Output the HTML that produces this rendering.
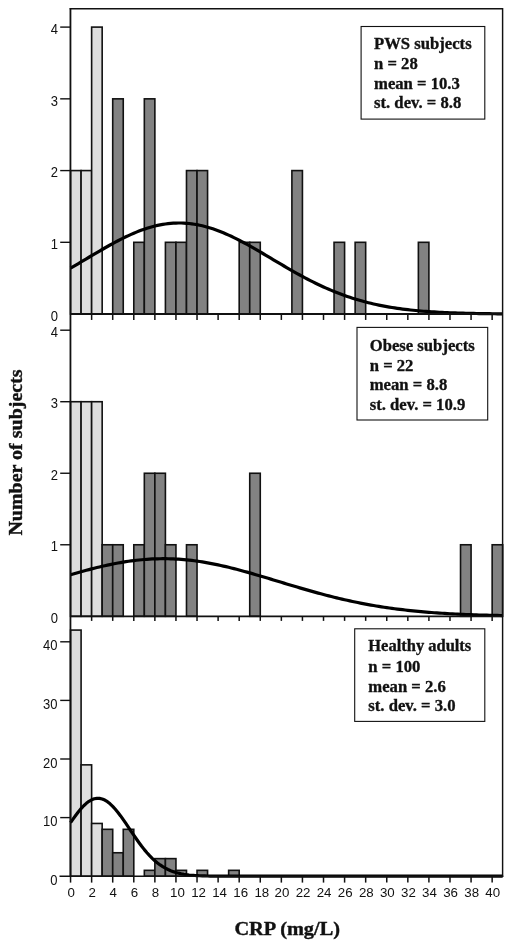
<!DOCTYPE html>
<html><head><meta charset="utf-8"><title>CRP histograms</title>
<style>html,body{margin:0;padding:0;background:#fff}svg{display:block;will-change:transform}.s{font-family:"Liberation Sans",Arial,Helvetica,sans-serif;font-size:14px;fill:#111}.b{font-family:"Liberation Serif","Times New Roman",Times,serif;font-weight:bold;fill:#111;stroke:#111;stroke-width:0.32px}</style></head><body>
<svg width="512" height="948" viewBox="0 0 512 948">
<rect width="512" height="948" fill="#fff"/>
<rect x="70.55" y="170.58" width="10.54" height="143.47" fill="#dedede" stroke="#111" stroke-width="1.6"/>
<rect x="81.09" y="170.58" width="10.54" height="143.47" fill="#dedede" stroke="#111" stroke-width="1.6"/>
<rect x="91.63" y="27.10" width="10.54" height="286.95" fill="#dedede" stroke="#111" stroke-width="1.6"/>
<rect x="112.71" y="98.84" width="10.54" height="215.21" fill="#828282" stroke="#111" stroke-width="1.6"/>
<rect x="133.79" y="242.31" width="10.54" height="71.74" fill="#828282" stroke="#111" stroke-width="1.6"/>
<rect x="144.33" y="98.84" width="10.54" height="215.21" fill="#828282" stroke="#111" stroke-width="1.6"/>
<rect x="165.41" y="242.31" width="10.54" height="71.74" fill="#828282" stroke="#111" stroke-width="1.6"/>
<rect x="175.95" y="242.31" width="10.54" height="71.74" fill="#828282" stroke="#111" stroke-width="1.6"/>
<rect x="186.49" y="170.58" width="10.54" height="143.47" fill="#828282" stroke="#111" stroke-width="1.6"/>
<rect x="197.03" y="170.58" width="10.54" height="143.47" fill="#828282" stroke="#111" stroke-width="1.6"/>
<rect x="239.19" y="242.31" width="10.54" height="71.74" fill="#828282" stroke="#111" stroke-width="1.6"/>
<rect x="249.73" y="242.31" width="10.54" height="71.74" fill="#828282" stroke="#111" stroke-width="1.6"/>
<rect x="291.89" y="170.58" width="10.54" height="143.47" fill="#828282" stroke="#111" stroke-width="1.6"/>
<rect x="334.05" y="242.31" width="10.54" height="71.74" fill="#828282" stroke="#111" stroke-width="1.6"/>
<rect x="355.13" y="242.31" width="10.54" height="71.74" fill="#828282" stroke="#111" stroke-width="1.6"/>
<rect x="418.37" y="242.31" width="10.54" height="71.74" fill="#828282" stroke="#111" stroke-width="1.6"/>
<rect x="70.55" y="401.72" width="10.54" height="214.57" fill="#dedede" stroke="#111" stroke-width="1.6"/>
<rect x="81.09" y="401.72" width="10.54" height="214.57" fill="#dedede" stroke="#111" stroke-width="1.6"/>
<rect x="91.63" y="401.72" width="10.54" height="214.57" fill="#dedede" stroke="#111" stroke-width="1.6"/>
<rect x="102.17" y="544.77" width="10.54" height="71.52" fill="#828282" stroke="#111" stroke-width="1.6"/>
<rect x="112.71" y="544.77" width="10.54" height="71.52" fill="#828282" stroke="#111" stroke-width="1.6"/>
<rect x="133.79" y="544.77" width="10.54" height="71.52" fill="#828282" stroke="#111" stroke-width="1.6"/>
<rect x="144.33" y="473.25" width="10.54" height="143.05" fill="#828282" stroke="#111" stroke-width="1.6"/>
<rect x="154.87" y="473.25" width="10.54" height="143.05" fill="#828282" stroke="#111" stroke-width="1.6"/>
<rect x="165.41" y="544.77" width="10.54" height="71.52" fill="#828282" stroke="#111" stroke-width="1.6"/>
<rect x="186.49" y="544.77" width="10.54" height="71.52" fill="#828282" stroke="#111" stroke-width="1.6"/>
<rect x="249.73" y="473.25" width="10.54" height="143.05" fill="#828282" stroke="#111" stroke-width="1.6"/>
<rect x="460.53" y="544.77" width="10.54" height="71.52" fill="#828282" stroke="#111" stroke-width="1.6"/>
<rect x="492.15" y="544.77" width="10.54" height="71.52" fill="#828282" stroke="#111" stroke-width="1.6"/>
<rect x="70.55" y="630.08" width="10.54" height="246.12" fill="#dedede" stroke="#111" stroke-width="1.6"/>
<rect x="81.09" y="764.86" width="10.54" height="111.34" fill="#dedede" stroke="#111" stroke-width="1.6"/>
<rect x="91.63" y="823.46" width="10.54" height="52.74" fill="#dedede" stroke="#111" stroke-width="1.6"/>
<rect x="102.17" y="829.32" width="10.54" height="46.88" fill="#828282" stroke="#111" stroke-width="1.6"/>
<rect x="112.71" y="852.76" width="10.54" height="23.44" fill="#828282" stroke="#111" stroke-width="1.6"/>
<rect x="123.25" y="829.32" width="10.54" height="46.88" fill="#828282" stroke="#111" stroke-width="1.6"/>
<rect x="144.33" y="870.34" width="10.54" height="5.86" fill="#828282" stroke="#111" stroke-width="1.6"/>
<rect x="154.87" y="858.62" width="10.54" height="17.58" fill="#828282" stroke="#111" stroke-width="1.6"/>
<rect x="165.41" y="858.62" width="10.54" height="17.58" fill="#828282" stroke="#111" stroke-width="1.6"/>
<rect x="175.95" y="870.34" width="10.54" height="5.86" fill="#828282" stroke="#111" stroke-width="1.6"/>
<rect x="197.03" y="870.34" width="10.54" height="5.86" fill="#828282" stroke="#111" stroke-width="1.6"/>
<rect x="228.65" y="870.34" width="10.54" height="5.86" fill="#828282" stroke="#111" stroke-width="1.6"/>
<polyline points="70.55,268.15 73.19,266.61 75.82,265.07 78.45,263.51 81.09,261.95 83.72,260.39 86.36,258.82 89.00,257.25 91.63,255.68 94.26,254.12 96.90,252.57 99.53,251.03 102.17,249.50 104.80,247.99 107.44,246.49 110.07,245.02 112.71,243.57 115.34,242.16 117.98,240.77 120.61,239.41 123.25,238.09 125.88,236.81 128.52,235.58 131.16,234.38 133.79,233.24 136.43,232.14 139.06,231.10 141.69,230.11 144.33,229.17 146.96,228.30 149.60,227.48 152.23,226.73 154.87,226.05 157.50,225.43 160.14,224.87 162.77,224.39 165.41,223.98 168.04,223.64 170.68,223.36 173.31,223.17 175.95,223.04 178.58,222.99 181.22,223.01 183.85,223.11 186.49,223.28 189.12,223.52 191.76,223.83 194.39,224.22 197.03,224.67 199.66,225.20 202.30,225.79 204.94,226.45 207.57,227.18 210.20,227.96 212.84,228.81 215.47,229.73 218.11,230.69 220.75,231.72 223.38,232.79 226.01,233.92 228.65,235.09 231.28,236.31 233.92,237.58 236.56,238.88 239.19,240.22 241.82,241.60 244.46,243.00 247.09,244.44 249.73,245.90 252.37,247.39 255.00,248.89 257.63,250.41 260.27,251.95 262.90,253.50 265.54,255.06 268.17,256.62 270.81,258.19 273.44,259.76 276.08,261.33 278.71,262.89 281.35,264.45 283.98,266.00 286.62,267.53 289.25,269.06 291.89,270.57 294.52,272.06 297.16,273.54 299.79,274.99 302.43,276.42 305.06,277.83 307.70,279.22 310.33,280.58 312.97,281.91 315.60,283.21 318.24,284.49 320.88,285.73 323.51,286.95 326.14,288.13 328.78,289.28 331.41,290.40 334.05,291.49 336.69,292.54 339.32,293.56 341.95,294.55 344.59,295.51 347.22,296.43 349.86,297.32 352.50,298.18 355.13,299.01 357.76,299.80 360.40,300.57 363.03,301.30 365.67,302.00 368.31,302.68 370.94,303.32 373.57,303.94 376.21,304.53 378.84,305.09 381.48,305.62 384.12,306.13 386.75,306.62 389.38,307.08 392.02,307.52 394.65,307.93 397.29,308.32 399.93,308.70 402.56,309.05 405.19,309.38 407.83,309.70 410.46,309.99 413.10,310.27 415.73,310.53 418.37,310.78 421.00,311.01 423.64,311.23 426.27,311.44 428.91,311.63 431.54,311.81 434.18,311.97 436.81,312.13 439.45,312.28 442.08,312.41 444.72,312.54 447.35,312.66 449.99,312.77 452.62,312.87 455.26,312.97 457.89,313.06 460.53,313.14 463.16,313.21 465.80,313.28 468.44,313.35 471.07,313.41 473.70,313.46 476.34,313.51 478.97,313.56 481.61,313.60 484.25,313.64 486.88,313.68 489.51,313.71 492.15,313.74 494.78,313.77 497.42,313.80 500.05,313.82 502.69,313.84" fill="none" stroke="#000" stroke-width="3.2" stroke-linejoin="round"/>
<polyline points="70.55,574.73 73.19,573.96 75.82,573.20 78.45,572.45 81.09,571.72 83.72,570.99 86.36,570.28 89.00,569.58 91.63,568.89 94.26,568.22 96.90,567.57 99.53,566.93 102.17,566.31 104.80,565.71 107.44,565.13 110.07,564.57 112.71,564.03 115.34,563.51 117.98,563.02 120.61,562.55 123.25,562.10 125.88,561.68 128.52,561.29 131.16,560.92 133.79,560.58 136.43,560.26 139.06,559.98 141.69,559.72 144.33,559.49 146.96,559.29 149.60,559.12 152.23,558.97 154.87,558.86 157.50,558.78 160.14,558.73 162.77,558.71 165.41,558.72 168.04,558.76 170.68,558.83 173.31,558.93 175.95,559.06 178.58,559.22 181.22,559.40 183.85,559.62 186.49,559.87 189.12,560.14 191.76,560.45 194.39,560.78 197.03,561.14 199.66,561.52 202.30,561.93 204.94,562.37 207.57,562.83 210.20,563.31 212.84,563.82 215.47,564.35 218.11,564.90 220.75,565.48 223.38,566.07 226.01,566.68 228.65,567.31 231.28,567.96 233.92,568.62 236.56,569.30 239.19,570.00 241.82,570.70 244.46,571.43 247.09,572.16 249.73,572.90 252.37,573.66 255.00,574.42 257.63,575.19 260.27,575.97 262.90,576.75 265.54,577.54 268.17,578.33 270.81,579.13 273.44,579.93 276.08,580.73 278.71,581.53 281.35,582.33 283.98,583.13 286.62,583.93 289.25,584.72 291.89,585.52 294.52,586.30 297.16,587.09 299.79,587.86 302.43,588.64 305.06,589.40 307.70,590.16 310.33,590.91 312.97,591.65 315.60,592.38 318.24,593.10 320.88,593.82 323.51,594.52 326.14,595.21 328.78,595.89 331.41,596.56 334.05,597.21 336.69,597.86 339.32,598.49 341.95,599.11 344.59,599.72 347.22,600.31 349.86,600.89 352.50,601.46 355.13,602.01 357.76,602.55 360.40,603.08 363.03,603.59 365.67,604.09 368.31,604.58 370.94,605.05 373.57,605.51 376.21,605.96 378.84,606.39 381.48,606.81 384.12,607.22 386.75,607.61 389.38,607.99 392.02,608.36 394.65,608.72 397.29,609.06 399.93,609.39 402.56,609.71 405.19,610.02 407.83,610.32 410.46,610.61 413.10,610.88 415.73,611.15 418.37,611.40 421.00,611.65 423.64,611.88 426.27,612.11 428.91,612.32 431.54,612.53 434.18,612.73 436.81,612.91 439.45,613.10 442.08,613.27 444.72,613.43 447.35,613.59 449.99,613.74 452.62,613.88 455.26,614.02 457.89,614.15 460.53,614.27 463.16,614.39 465.80,614.50 468.44,614.61 471.07,614.71 473.70,614.80 476.34,614.89 478.97,614.98 481.61,615.06 484.25,615.14 486.88,615.21 489.51,615.28 492.15,615.34 494.78,615.40 497.42,615.46 500.05,615.52 502.69,615.57" fill="none" stroke="#000" stroke-width="3.2" stroke-linejoin="round"/>
<polyline points="70.55,822.67 73.19,818.86 75.82,815.21 78.45,811.77 81.09,808.60 83.72,805.78 86.36,803.34 89.00,801.34 91.63,799.82 94.26,798.80 96.90,798.32 99.53,798.37 102.17,798.96 104.80,800.08 107.44,801.70 110.07,803.79 112.71,806.31 115.34,809.21 117.98,812.43 120.61,815.92 123.25,819.61 125.88,823.45 128.52,827.36 131.16,831.30 133.79,835.20 136.43,839.03 139.06,842.73 141.69,846.27 144.33,849.62 146.96,852.76 149.60,855.67 152.23,858.34 154.87,860.78 157.50,862.97 160.14,864.93 162.77,866.67 165.41,868.19 168.04,869.52 170.68,870.67 173.31,871.65 175.95,872.48 178.58,873.18 181.22,873.77 183.85,874.25 186.49,874.65 189.12,874.98 191.76,875.24 194.39,875.46 197.03,875.62 199.66,875.76 202.30,875.86 204.94,875.95 207.57,876.01 210.20,876.06 212.84,876.09 215.47,876.12 218.11,876.14 220.75,876.16 223.38,876.17 226.01,876.18 228.65,876.18 231.28,876.19 233.92,876.19 236.56,876.19 239.19,876.20 241.82,876.20 244.46,876.20 247.09,876.20 249.73,876.20 252.37,876.20 255.00,876.20 257.63,876.20 260.27,876.20 262.90,876.20 265.54,876.20 268.17,876.20 270.81,876.20 273.44,876.20 276.08,876.20 278.71,876.20 281.35,876.20 283.98,876.20 286.62,876.20 289.25,876.20 291.89,876.20 294.52,876.20 297.16,876.20 299.79,876.20 302.43,876.20 305.06,876.20 307.70,876.20 310.33,876.20 312.97,876.20 315.60,876.20 318.24,876.20 320.88,876.20 323.51,876.20 326.14,876.20 328.78,876.20 331.41,876.20 334.05,876.20 336.69,876.20 339.32,876.20 341.95,876.20 344.59,876.20 347.22,876.20 349.86,876.20 352.50,876.20 355.13,876.20 357.76,876.20 360.40,876.20 363.03,876.20 365.67,876.20 368.31,876.20 370.94,876.20 373.57,876.20 376.21,876.20 378.84,876.20 381.48,876.20 384.12,876.20 386.75,876.20 389.38,876.20 392.02,876.20 394.65,876.20 397.29,876.20 399.93,876.20 402.56,876.20 405.19,876.20 407.83,876.20 410.46,876.20 413.10,876.20 415.73,876.20 418.37,876.20 421.00,876.20 423.64,876.20 426.27,876.20 428.91,876.20 431.54,876.20 434.18,876.20 436.81,876.20 439.45,876.20 442.08,876.20 444.72,876.20 447.35,876.20 449.99,876.20 452.62,876.20 455.26,876.20 457.89,876.20 460.53,876.20 463.16,876.20 465.80,876.20 468.44,876.20 471.07,876.20 473.70,876.20 476.34,876.20 478.97,876.20 481.61,876.20 484.25,876.20 486.88,876.20 489.51,876.20 492.15,876.20 494.78,876.20 497.42,876.20 500.05,876.20 502.69,876.20" fill="none" stroke="#000" stroke-width="3.2" stroke-linejoin="round"/>
<path d="M70.45 8.75H502.6V876.2" fill="none" stroke="#111" stroke-width="1.45" stroke-linecap="square"/>
<line x1="70.45" y1="8.05" x2="70.45" y2="876.90" stroke="#111" stroke-width="1.8"/>
<line x1="70.55" y1="313.95" x2="502.6" y2="313.95" stroke="#111" stroke-width="1.9"/>
<line x1="70.55" y1="616.3" x2="502.6" y2="616.3" stroke="#111" stroke-width="1.7"/>
<line x1="59.5" y1="876.2" x2="503.3" y2="876.2" stroke="#111" stroke-width="1.6"/>
<line x1="91.63" y1="314.05" x2="91.63" y2="319.95" stroke="#111" stroke-width="1.5"/>
<line x1="112.71" y1="314.05" x2="112.71" y2="319.95" stroke="#111" stroke-width="1.5"/>
<line x1="133.79" y1="314.05" x2="133.79" y2="319.95" stroke="#111" stroke-width="1.5"/>
<line x1="154.87" y1="314.05" x2="154.87" y2="319.95" stroke="#111" stroke-width="1.5"/>
<line x1="175.95" y1="314.05" x2="175.95" y2="319.95" stroke="#111" stroke-width="1.5"/>
<line x1="197.03" y1="314.05" x2="197.03" y2="319.95" stroke="#111" stroke-width="1.5"/>
<line x1="218.11" y1="314.05" x2="218.11" y2="319.95" stroke="#111" stroke-width="1.5"/>
<line x1="239.19" y1="314.05" x2="239.19" y2="319.95" stroke="#111" stroke-width="1.5"/>
<line x1="260.27" y1="314.05" x2="260.27" y2="319.95" stroke="#111" stroke-width="1.5"/>
<line x1="281.35" y1="314.05" x2="281.35" y2="319.95" stroke="#111" stroke-width="1.5"/>
<line x1="302.43" y1="314.05" x2="302.43" y2="319.95" stroke="#111" stroke-width="1.5"/>
<line x1="323.51" y1="314.05" x2="323.51" y2="319.95" stroke="#111" stroke-width="1.5"/>
<line x1="344.59" y1="314.05" x2="344.59" y2="319.95" stroke="#111" stroke-width="1.5"/>
<line x1="365.67" y1="314.05" x2="365.67" y2="319.95" stroke="#111" stroke-width="1.5"/>
<line x1="386.75" y1="314.05" x2="386.75" y2="319.95" stroke="#111" stroke-width="1.5"/>
<line x1="407.83" y1="314.05" x2="407.83" y2="319.95" stroke="#111" stroke-width="1.5"/>
<line x1="428.91" y1="314.05" x2="428.91" y2="319.95" stroke="#111" stroke-width="1.5"/>
<line x1="449.99" y1="314.05" x2="449.99" y2="319.95" stroke="#111" stroke-width="1.5"/>
<line x1="471.07" y1="314.05" x2="471.07" y2="319.95" stroke="#111" stroke-width="1.5"/>
<line x1="492.15" y1="314.05" x2="492.15" y2="319.95" stroke="#111" stroke-width="1.5"/>
<line x1="91.63" y1="616.3" x2="91.63" y2="620.9" stroke="#111" stroke-width="1.5"/>
<line x1="112.71" y1="616.3" x2="112.71" y2="620.9" stroke="#111" stroke-width="1.5"/>
<line x1="133.79" y1="616.3" x2="133.79" y2="620.9" stroke="#111" stroke-width="1.5"/>
<line x1="154.87" y1="616.3" x2="154.87" y2="620.9" stroke="#111" stroke-width="1.5"/>
<line x1="175.95" y1="616.3" x2="175.95" y2="620.9" stroke="#111" stroke-width="1.5"/>
<line x1="197.03" y1="616.3" x2="197.03" y2="620.9" stroke="#111" stroke-width="1.5"/>
<line x1="218.11" y1="616.3" x2="218.11" y2="620.9" stroke="#111" stroke-width="1.5"/>
<line x1="239.19" y1="616.3" x2="239.19" y2="620.9" stroke="#111" stroke-width="1.5"/>
<line x1="260.27" y1="616.3" x2="260.27" y2="620.9" stroke="#111" stroke-width="1.5"/>
<line x1="281.35" y1="616.3" x2="281.35" y2="620.9" stroke="#111" stroke-width="1.5"/>
<line x1="302.43" y1="616.3" x2="302.43" y2="620.9" stroke="#111" stroke-width="1.5"/>
<line x1="323.51" y1="616.3" x2="323.51" y2="620.9" stroke="#111" stroke-width="1.5"/>
<line x1="344.59" y1="616.3" x2="344.59" y2="620.9" stroke="#111" stroke-width="1.5"/>
<line x1="365.67" y1="616.3" x2="365.67" y2="620.9" stroke="#111" stroke-width="1.5"/>
<line x1="386.75" y1="616.3" x2="386.75" y2="620.9" stroke="#111" stroke-width="1.5"/>
<line x1="407.83" y1="616.3" x2="407.83" y2="620.9" stroke="#111" stroke-width="1.5"/>
<line x1="428.91" y1="616.3" x2="428.91" y2="620.9" stroke="#111" stroke-width="1.5"/>
<line x1="449.99" y1="616.3" x2="449.99" y2="620.9" stroke="#111" stroke-width="1.5"/>
<line x1="471.07" y1="616.3" x2="471.07" y2="620.9" stroke="#111" stroke-width="1.5"/>
<line x1="492.15" y1="616.3" x2="492.15" y2="620.9" stroke="#111" stroke-width="1.5"/>
<line x1="70.55" y1="876.2" x2="70.55" y2="882.6" stroke="#111" stroke-width="1.5"/>
<line x1="91.63" y1="876.2" x2="91.63" y2="882.6" stroke="#111" stroke-width="1.5"/>
<line x1="112.71" y1="876.2" x2="112.71" y2="882.6" stroke="#111" stroke-width="1.5"/>
<line x1="133.79" y1="876.2" x2="133.79" y2="882.6" stroke="#111" stroke-width="1.5"/>
<line x1="154.87" y1="876.2" x2="154.87" y2="882.6" stroke="#111" stroke-width="1.5"/>
<line x1="175.95" y1="876.2" x2="175.95" y2="882.6" stroke="#111" stroke-width="1.5"/>
<line x1="197.03" y1="876.2" x2="197.03" y2="882.6" stroke="#111" stroke-width="1.5"/>
<line x1="218.11" y1="876.2" x2="218.11" y2="882.6" stroke="#111" stroke-width="1.5"/>
<line x1="239.19" y1="876.2" x2="239.19" y2="882.6" stroke="#111" stroke-width="1.5"/>
<line x1="260.27" y1="876.2" x2="260.27" y2="882.6" stroke="#111" stroke-width="1.5"/>
<line x1="281.35" y1="876.2" x2="281.35" y2="882.6" stroke="#111" stroke-width="1.5"/>
<line x1="302.43" y1="876.2" x2="302.43" y2="882.6" stroke="#111" stroke-width="1.5"/>
<line x1="323.51" y1="876.2" x2="323.51" y2="882.6" stroke="#111" stroke-width="1.5"/>
<line x1="344.59" y1="876.2" x2="344.59" y2="882.6" stroke="#111" stroke-width="1.5"/>
<line x1="365.67" y1="876.2" x2="365.67" y2="882.6" stroke="#111" stroke-width="1.5"/>
<line x1="386.75" y1="876.2" x2="386.75" y2="882.6" stroke="#111" stroke-width="1.5"/>
<line x1="407.83" y1="876.2" x2="407.83" y2="882.6" stroke="#111" stroke-width="1.5"/>
<line x1="428.91" y1="876.2" x2="428.91" y2="882.6" stroke="#111" stroke-width="1.5"/>
<line x1="449.99" y1="876.2" x2="449.99" y2="882.6" stroke="#111" stroke-width="1.5"/>
<line x1="471.07" y1="876.2" x2="471.07" y2="882.6" stroke="#111" stroke-width="1.5"/>
<line x1="492.15" y1="876.2" x2="492.15" y2="882.6" stroke="#111" stroke-width="1.5"/>
<text class="s" transform="translate(57.9 320.75) scale(0.93 1)" text-anchor="end">0</text>
<line x1="60.2" y1="242.31" x2="70.55" y2="242.31" stroke="#111" stroke-width="1.4"/>
<text class="s" transform="translate(57.9 249.01) scale(0.93 1)" text-anchor="end">1</text>
<line x1="60.2" y1="170.58" x2="70.55" y2="170.58" stroke="#111" stroke-width="1.4"/>
<text class="s" transform="translate(57.9 177.28) scale(0.93 1)" text-anchor="end">2</text>
<line x1="60.2" y1="98.84" x2="70.55" y2="98.84" stroke="#111" stroke-width="1.4"/>
<text class="s" transform="translate(57.9 105.54) scale(0.93 1)" text-anchor="end">3</text>
<line x1="60.2" y1="27.10" x2="70.55" y2="27.10" stroke="#111" stroke-width="1.4"/>
<text class="s" transform="translate(57.9 33.80) scale(0.93 1)" text-anchor="end">4</text>
<text class="s" transform="translate(57.9 622.60) scale(0.93 1)" text-anchor="end">0</text>
<line x1="60.2" y1="544.77" x2="70.55" y2="544.77" stroke="#111" stroke-width="1.4"/>
<text class="s" transform="translate(57.9 551.07) scale(0.93 1)" text-anchor="end">1</text>
<line x1="60.2" y1="473.25" x2="70.55" y2="473.25" stroke="#111" stroke-width="1.4"/>
<text class="s" transform="translate(57.9 479.55) scale(0.93 1)" text-anchor="end">2</text>
<line x1="60.2" y1="401.72" x2="70.55" y2="401.72" stroke="#111" stroke-width="1.4"/>
<text class="s" transform="translate(57.9 408.02) scale(0.93 1)" text-anchor="end">3</text>
<line x1="60.2" y1="330.20" x2="70.55" y2="330.20" stroke="#111" stroke-width="1.4"/>
<text class="s" transform="translate(57.9 336.50) scale(0.93 1)" text-anchor="end">4</text>
<text class="s" transform="translate(57.4 884.70) scale(0.93 1)" text-anchor="end">0</text>
<line x1="60.2" y1="817.60" x2="70.55" y2="817.60" stroke="#111" stroke-width="1.4"/>
<text class="s" transform="translate(57.4 826.10) scale(0.93 1)" text-anchor="end">10</text>
<line x1="60.2" y1="759.00" x2="70.55" y2="759.00" stroke="#111" stroke-width="1.4"/>
<text class="s" transform="translate(57.4 767.50) scale(0.93 1)" text-anchor="end">20</text>
<line x1="60.2" y1="700.40" x2="70.55" y2="700.40" stroke="#111" stroke-width="1.4"/>
<text class="s" transform="translate(57.4 708.90) scale(0.93 1)" text-anchor="end">30</text>
<line x1="60.2" y1="641.80" x2="70.55" y2="641.80" stroke="#111" stroke-width="1.4"/>
<text class="s" transform="translate(57.4 650.30) scale(0.93 1)" text-anchor="end">40</text>
<text class="s" style="font-size:13.3px" transform="translate(71.15 896.9)" text-anchor="middle">0</text>
<text class="s" style="font-size:13.3px" transform="translate(92.23 896.9)" text-anchor="middle">2</text>
<text class="s" style="font-size:13.3px" transform="translate(113.31 896.9)" text-anchor="middle">4</text>
<text class="s" style="font-size:13.3px" transform="translate(134.39 896.9)" text-anchor="middle">6</text>
<text class="s" style="font-size:13.3px" transform="translate(155.47 896.9)" text-anchor="middle">8</text>
<text class="s" style="font-size:13.3px" transform="translate(177.45 896.9)" text-anchor="middle">10</text>
<text class="s" style="font-size:13.3px" transform="translate(198.53 896.9)" text-anchor="middle">12</text>
<text class="s" style="font-size:13.3px" transform="translate(219.61 896.9)" text-anchor="middle">14</text>
<text class="s" style="font-size:13.3px" transform="translate(240.69 896.9)" text-anchor="middle">16</text>
<text class="s" style="font-size:13.3px" transform="translate(261.77 896.9)" text-anchor="middle">18</text>
<text class="s" style="font-size:13.3px" transform="translate(281.95 896.9)" text-anchor="middle">20</text>
<text class="s" style="font-size:13.3px" transform="translate(303.03 896.9)" text-anchor="middle">22</text>
<text class="s" style="font-size:13.3px" transform="translate(324.11 896.9)" text-anchor="middle">24</text>
<text class="s" style="font-size:13.3px" transform="translate(345.19 896.9)" text-anchor="middle">26</text>
<text class="s" style="font-size:13.3px" transform="translate(366.27 896.9)" text-anchor="middle">28</text>
<text class="s" style="font-size:13.3px" transform="translate(387.35 896.9)" text-anchor="middle">30</text>
<text class="s" style="font-size:13.3px" transform="translate(408.43 896.9)" text-anchor="middle">32</text>
<text class="s" style="font-size:13.3px" transform="translate(429.51 896.9)" text-anchor="middle">34</text>
<text class="s" style="font-size:13.3px" transform="translate(450.59 896.9)" text-anchor="middle">36</text>
<text class="s" style="font-size:13.3px" transform="translate(471.67 896.9)" text-anchor="middle">38</text>
<text class="s" style="font-size:13.3px" transform="translate(492.75 896.9)" text-anchor="middle">40</text>
<rect x="361.1" y="26.5" width="123.70" height="92.60" fill="#fff" stroke="#111" stroke-width="1.1"/>
<text class="b" font-size="16" transform="translate(374.0 49.25) scale(1.042 1)">PWS subjects</text>
<text class="b" font-size="16" transform="translate(374.0 69.15) scale(1.042 1)">n = 28</text>
<text class="b" font-size="16" transform="translate(374.0 88.85) scale(1.042 1)">mean = 10.3</text>
<text class="b" font-size="16" transform="translate(374.0 108.45) scale(1.042 1)">st. dev. = 8.8</text>
<rect x="357.0" y="327.4" width="130.70" height="92.60" fill="#fff" stroke="#111" stroke-width="1.1"/>
<text class="b" font-size="16" transform="translate(369.7 350.65) scale(1.042 1)">Obese subjects</text>
<text class="b" font-size="16" transform="translate(369.7 370.65) scale(1.042 1)">n = 22</text>
<text class="b" font-size="16" transform="translate(369.7 390.45) scale(1.042 1)">mean = 8.8</text>
<text class="b" font-size="16" transform="translate(369.7 410.15) scale(1.042 1)">st. dev. = 10.9</text>
<rect x="354.7" y="628.8" width="130.10" height="92.60" fill="#fff" stroke="#111" stroke-width="1.1"/>
<text class="b" font-size="16" transform="translate(368.3 651.45) scale(1.03 1)">Healthy adults</text>
<text class="b" font-size="16" transform="translate(368.3 671.75) scale(1.042 1)">n = 100</text>
<text class="b" font-size="16" transform="translate(368.3 691.65) scale(1.042 1)">mean = 2.6</text>
<text class="b" font-size="16" transform="translate(368.3 711.25) scale(1.042 1)">st. dev. = 3.0</text>
<text class="b" font-size="19.7" style="stroke-width:0.4px" transform="translate(287.2 935.2) scale(1.032 1)" text-anchor="middle">CRP (mg/L)</text>
<text class="b" font-size="20" style="stroke-width:0.4px" transform="translate(22.2 452.5) scale(0.98 1) rotate(-90)" text-anchor="middle">Number of subjects</text>
</svg></body></html>
